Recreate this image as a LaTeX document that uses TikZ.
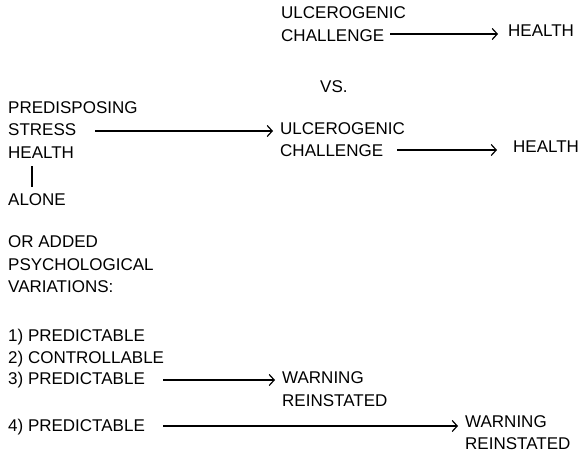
\documentclass[tikz,border=0pt]{standalone}
\usepackage{fontspec}
\setmainfont{Liberation Sans}
\usetikzlibrary{arrows.meta}
\begin{document}
\begin{tikzpicture}[x=1pt,y=-1pt,
  txt/.style={anchor=base west,inner sep=0pt,font=\fontsize{17}{20}\selectfont},
  arr/.style={line width=1.3pt,-{Straight Barb[length=5pt,width=11pt,line width=1.2pt]}},
  ln/.style={line width=1.3pt}]
\useasboundingbox (0,0) rectangle (580,457);
% top
\node[txt] (u1) at (281,19) {ULCEROGENIC};
\node[txt] (c1) at (281,42) {CHALLENGE};
\node[txt] (h1) at (508,37) {HEALTH};
\coordinate (a1s) at (390,34);
\coordinate (a1e) at (498,34);
\draw[arr] (a1s) -- (a1e);
\node[txt] (vs) at (320,93) {VS.};
% left block
\node[txt] (pre) at (8,114) {PREDISPOSING};
\node[txt] (str) at (8,136) {STRESS};
\node[txt] (hl) at (8,158) {HEALTH};
\node[txt] (alone) at (8,205) {ALONE};
\coordinate (l1s) at (32,166);
\coordinate (l1e) at (32,187);
\draw[ln] (l1s) -- (l1e);
\node[txt] (u2) at (280,135) {ULCEROGENIC};
\node[txt] (c2) at (280,157) {CHALLENGE};
\node[txt] (h2) at (513,153) {HEALTH};
\coordinate (a2s) at (95,131);
\coordinate (a2e) at (273,131);
\draw[arr] (a2s) -- (a2e);
\coordinate (a3s) at (397,150);
\coordinate (a3e) at (497,150);
\draw[arr] (a3s) -- (a3e);
% psychological
\node[txt] (or) at (8,247) {OR ADDED};
\node[txt] (psy) at (8,270) {PSYCHOLOGICAL};
\node[txt] (var) at (8,292) {VARIATIONS:};
\node[txt] (p1) at (8,341) {1) PREDICTABLE};
\node[txt] (p2) at (8,363) {2) CONTROLLABLE};
\node[txt] (p3) at (8,384) {3) PREDICTABLE};
\node[txt] (p4) at (8,431) {4) PREDICTABLE};
\node[txt] (w1) at (282,383) {WARNING};
\node[txt] (r1) at (282,406) {REINSTATED};
\node[txt] (w2) at (465,427) {WARNING};
\node[txt] (r2) at (465,449) {REINSTATED};
\coordinate (a4s) at (163,380);
\coordinate (a4e) at (275,380);
\draw[arr] (a4s) -- (a4e);
\coordinate (a5s) at (163,426);
\coordinate (a5e) at (458,426);
\draw[arr] (a5s) -- (a5e);
\end{tikzpicture}
\end{document}
